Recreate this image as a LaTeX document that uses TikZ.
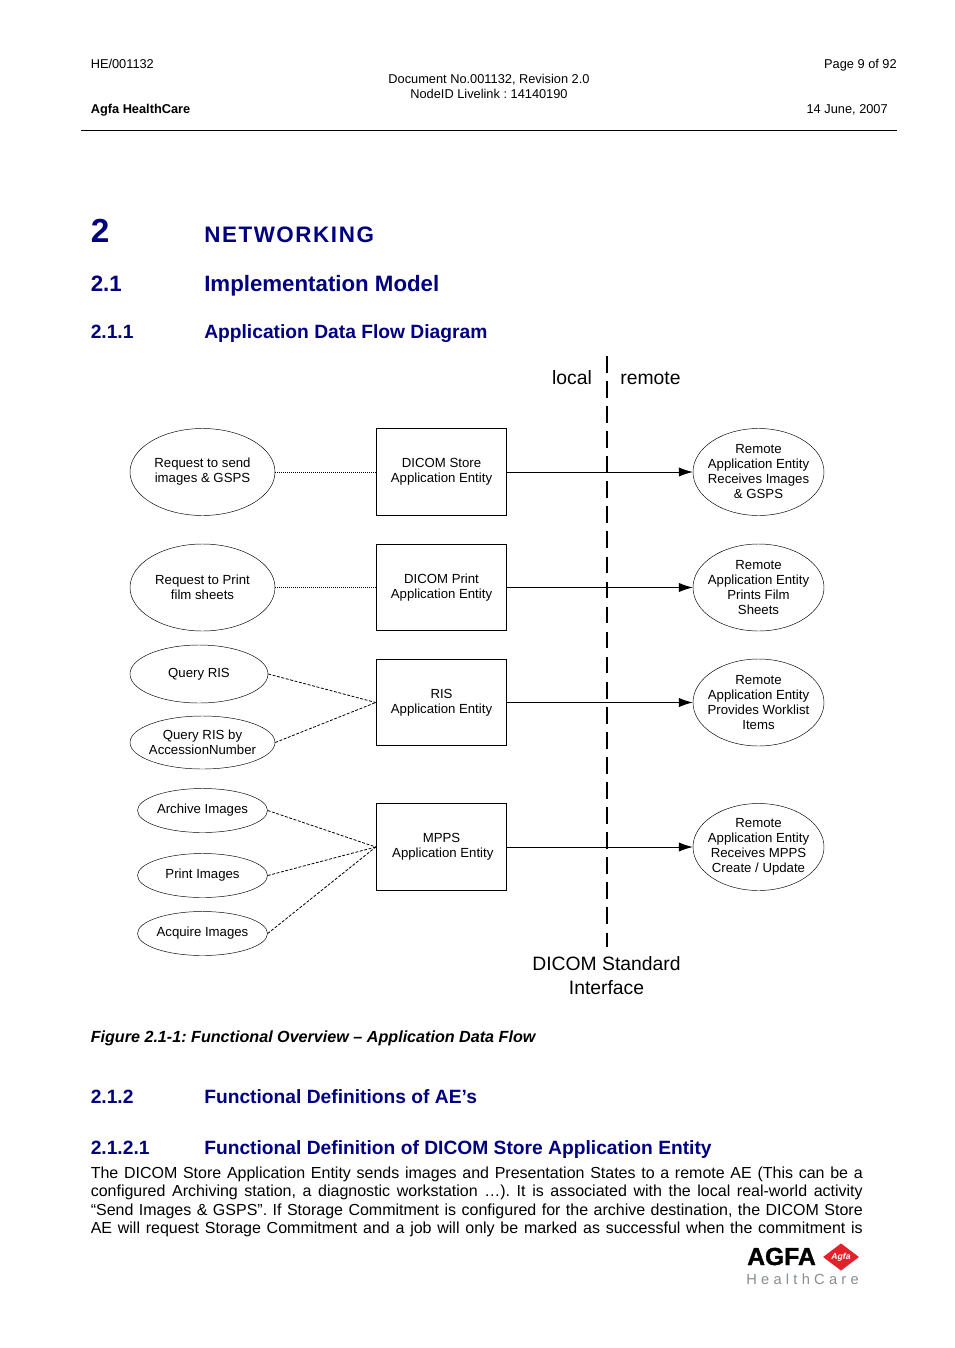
\documentclass[tikz,border=0pt]{standalone}
\usepackage{fontspec}
\setmainfont{Liberation Sans}
\usetikzlibrary{arrows.meta,shapes.geometric}
\definecolor{headblue}{HTML}{000080}
\definecolor{agfared}{HTML}{E3202C}
\definecolor{agfagray}{HTML}{868D93}
\AtBeginDocument{\frenchspacing}
\tikzset{
  pagetext/.style={inner sep=0pt,font=\fontsize{9.6}{11.25}\selectfont},
  headtext/.style={inner sep=0pt,anchor=base west,text=headblue,font=\bfseries\fontsize{14.42}{17}\selectfont},
  bodyline/.style={inner sep=0pt,anchor=base west,font=\fontsize{12}{14}\selectfont},
  usecase/.style={draw,ellipse,line width=0.35pt,inner sep=-8pt,align=center,
    font=\fontsize{9.9}{11.25}\selectfont},
  entity/.style={draw,line width=0.6pt,inner sep=0pt,align=center,
    minimum width=98pt,minimum height=65pt,font=\fontsize{9.9}{11.25}\selectfont},
  dotlink/.style={line width=0.5pt,dash pattern=on 0.9pt off 0.6pt},
  dashlink/.style={line width=0.6pt,dash pattern=on 2.2pt off 1.2pt},
  flowlink/.style={line width=0.65pt,-{Latex[length=10.5pt,width=7pt]}},
  boundary/.style={line width=1.1pt,dash pattern=on 12.5pt off 6.3pt},
  sidetext/.style={inner sep=0pt,align=center,font=\fontsize{14.5}{18}\selectfont}
}
\begin{document}
\begin{tikzpicture}[x=0.75pt,y=-0.75pt]
\useasboundingbox (0,0) rectangle (954,1348);

% page header
\node[pagetext,anchor=base west] (hdid) at (90.5,68.6) {HE/001132};
\node[pagetext,anchor=base east] (hdpage) at (897,68.6) {Page 9 of 92};
\node[pagetext,anchor=base] (hddoc) at (489,83.6) {Document No.001132, Revision 2.0};
\node[pagetext,anchor=base] (hdnode) at (489,98.6) {NodeID Livelink : 14140190};
\node[pagetext,anchor=base west,font=\bfseries\fontsize{9.6}{11.25}\selectfont] (hdagfa) at (90.5,113.6) {Agfa HealthCare};
\node[pagetext,anchor=base east] (hddate) at (888,113.6) {14 June, 2007};
\coordinate (ruleL) at (81,130.5);
\coordinate (ruleR) at (897,130.5);
\draw[line width=0.75pt] (ruleL) -- (ruleR);

% headings
\node[headtext,font=\bfseries\fontsize{25}{30}\selectfont] (numa) at (90.5,242.5) {2};
\node[headtext,font=\bfseries\fontsize{16.8}{20}\addfontfeature{LetterSpace=7}] (tita) at (204,242.5) {NETWORKING};
\node[headtext,font=\bfseries\fontsize{16.7}{20}\selectfont] (numb) at (90.5,291) {2.1};
\node[headtext,font=\bfseries\fontsize{16.7}{20}\selectfont] (titb) at (204,291) {Implementation Model};
\node[headtext] (numc) at (90.5,338) {2.1.1};
\node[headtext] (titc) at (204,338) {Application Data Flow Diagram};

% local use cases
\node[usecase,minimum width=108.75pt,minimum height=65.25pt] (reqsend) at (202.5,472) {Request to send\\images \& GSPS};
\node[usecase,minimum width=108.75pt,minimum height=65.25pt] (reqprint) at (202.5,587.5) {Request to Print\\film sheets};
\node[usecase,minimum width=103.5pt,minimum height=43.5pt] (query) at (199,674) {Query RIS};
\node[usecase,minimum width=108.75pt,minimum height=39.75pt] (queryacc) at (202.5,742.5) {Query RIS by\\AccessionNumber};
\node[usecase,minimum width=97.5pt,minimum height=33pt] (archive) at (202.5,810.5) {Archive Images};
\node[usecase,minimum width=97.5pt,minimum height=33pt] (printimg) at (202.5,875.5) {Print Images};
\node[usecase,minimum width=97.5pt,minimum height=33pt] (acquire) at (202.5,933.5) {Acquire Images};

% application entities
\node[entity] (store) at (441.5,472) {DICOM Store\\Application Entity};
\node[entity] (print) at (441.5,587.5) {DICOM Print\\Application Entity};
\node[entity] (ris) at (441.5,702.5) {RIS\\Application Entity};
\node[entity] (mpps) at (441.5,847) {MPPS\\\hspace{2pt}Application Entity};

% remote entities
\node[usecase,minimum width=98.25pt,minimum height=65.25pt] (remstore) at (758.5,472) {Remote\\Application Entity\\Receives Images\\\& GSPS};
\node[usecase,minimum width=98.25pt,minimum height=65.25pt] (remprint) at (758.5,587.5) {Remote\\Application Entity\\Prints Film\\Sheets};
\node[usecase,minimum width=98.25pt,minimum height=65.25pt] (remris) at (758.5,702.5) {Remote\\Application Entity\\Provides Worklist\\Items};
\node[usecase,minimum width=98.25pt,minimum height=65.25pt] (remmpps) at (758.5,847) {Remote\\Application Entity\\Receives MPPS\\Create / Update};

% interface line
\coordinate (bndtop) at (607,356);
\coordinate (bndbot) at (607,947);
\draw[boundary] (bndtop) -- (bndbot);
\node[sidetext,anchor=base] (local) at (572,384) {local};
\node[sidetext,anchor=base] (remote) at (650.5,384) {remote};
\node[sidetext] (iface) at (606.5,976) {DICOM Standard\\Interface};

% links
\draw[dotlink] (reqsend.east) -- (store.west);
\draw[dotlink] (reqprint.east) -- (print.west);
\draw[dashlink] (query.east) -- (ris.west);
\draw[dashlink] (queryacc.east) -- (ris.west);
\draw[dashlink] (archive.east) -- (mpps.west);
\draw[dashlink] (printimg.east) -- (mpps.west);
\draw[dashlink] (acquire.east) -- (mpps.west);
\draw[flowlink] (store.east) -- (remstore.west);
\draw[flowlink] (print.east) -- (remprint.west);
\draw[flowlink] (ris.east) -- (remris.west);
\draw[flowlink] (mpps.east) -- (remmpps.west);

% caption and following text
\node[inner sep=0pt,anchor=base west,font=\bfseries\itshape\fontsize{12.1}{15}\selectfont] (caption) at (90.5,1042) {Figure 2.1-1: Functional Overview – Application Data Flow};
\node[headtext] (numd) at (90.5,1103) {2.1.2};
\node[headtext] (titd) at (204,1103) {Functional Definitions of AE’s};
\node[headtext] (nume) at (90.5,1154) {2.1.2.1};
\node[headtext] (tite) at (204,1154) {Functional Definition of DICOM Store Application Entity};
\node[bodyline] (para) at (90.5,1178) {\makebox[579pt][s]{The DICOM Store Application Entity sends images and Presentation States to a remote AE (This can be a}};
\node[bodyline] (parb) at (90.5,1196) {\makebox[579pt][s]{configured Archiving station, a diagnostic workstation …). It is associated with the local real-world activity}};
\node[bodyline] (parc) at (90.5,1215) {\makebox[579pt][s]{“Send Images \& GSPS”. If Storage Commitment is configured for the archive destination, the DICOM Store}};
\node[bodyline] (pard) at (90.5,1233) {\makebox[579pt][s]{AE will request Storage Commitment and a job will only be marked as successful when the commitment is}};

% logo
\node[inner sep=0pt,anchor=base west,font=\bfseries\fontsize{18.5}{20}\addfontfeature{FakeBold=1.5}] (logoa) at (747,1265) {AGFA};
\node[diamond,fill=agfared,inner sep=0pt,minimum width=27pt,minimum height=19.5pt,text=white,font=\bfseries\itshape\fontsize{6.5}{7}\selectfont] (logob) at (841,1257) {Agfa};
\node[inner sep=0pt,anchor=base west,text=agfagray,font=\fontsize{11}{13}\addfontfeature{LetterSpace=29}] (logoc) at (746,1284) {HealthCare};
\end{tikzpicture}
\end{document}
